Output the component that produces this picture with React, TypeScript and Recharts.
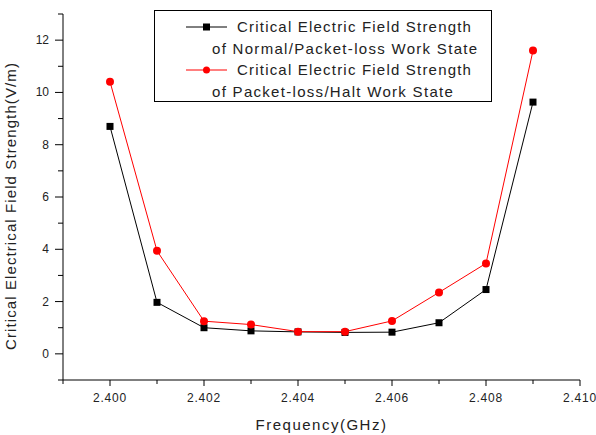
import { LineChart, Line, XAxis, YAxis, Legend, Label } from "recharts";

const frequencies = [2.4, 2.401, 2.402, 2.403, 2.404, 2.405, 2.406, 2.407, 2.408, 2.409];
const normalPacketLoss = [8.7, 1.97, 1.0, 0.88, 0.84, 0.82, 0.83, 1.19, 2.46, 9.63];
const packetLossHalt = [10.41, 3.94, 1.25, 1.12, 0.85, 0.85, 1.26, 2.35, 3.46, 11.6];

const xTicks = [2.399, 2.4, 2.401, 2.402, 2.403, 2.404, 2.405, 2.406, 2.407, 2.408, 2.409, 2.41];
const yTicks = [-1, 0, 1, 2, 3, 4, 5, 6, 7, 8, 9, 10, 11, 12, 13];

const seriesNames = [
  ["Critical Electric Field Strength", "of Normal/Packet-loss Work State"],
  ["Critical Electric Field Strength", "of Packet-loss/Halt Work State"],
];

const data = frequencies.map((f, i) => ({
  f,
  normal: normalPacketLoss[i],
  halt: packetLossHalt[i],
}));

const FONT = "'Liberation Sans', Arial, sans-serif";
const INK = "#222";

function XTick({ x, y, payload }: any) {
  const v = payload.value as number;
  const major = Math.round(v * 1000) % 2 === 0;
  return (
    <g>
      <line x1={x} x2={x} y1={y} y2={y + (major ? 6 : 4)} stroke="#000" />
      {major && (
        <text x={x} y={y + 22} textAnchor="middle" fontSize={12} letterSpacing={0.8} fill={INK} fontFamily={FONT}>
          {v.toFixed(3)}
        </text>
      )}
    </g>
  );
}

function YTick({ x, y, payload }: any) {
  const v = payload.value as number;
  const major = v % 2 === 0;
  return (
    <g>
      <line x1={x} x2={x - (major ? 8 : 5)} y1={y} y2={y} stroke="#000" />
      {major && (
        <text x={x - 14} y={y + 4} textAnchor="end" fontSize={12} fill={INK} fontFamily={FONT}>
          {v}
        </text>
      )}
    </g>
  );
}

function SquareDot({ cx, cy }: any) {
  return <rect x={cx - 3.5} y={cy - 3.5} width={7} height={7} fill="#000" />;
}

function CircleDot({ cx, cy }: any) {
  return <circle cx={cx} cy={cy} r={4} fill="#ff0000" />;
}

function LegendBox() {
  const rows = [
    { color: "#000", marker: <rect x={17} y={-3.5} width={7} height={7} fill="#000" />, names: seriesNames[0] },
    { color: "#ff0000", marker: <circle cx={20.5} cy={0} r={3.5} fill="#ff0000" />, names: seriesNames[1] },
  ];
  return (
    <div style={{ width: 336, height: 90, border: "1px solid #000", background: "#fff", position: "relative", fontFamily: FONT, fontSize: 15, color: INK }}>
      {rows.map((r, i) => (
        <div key={i} style={{ position: "absolute", top: 5 + i * 43, left: 0 }}>
          <svg width={42} height={10} style={{ position: "absolute", left: 31, top: 6 }}>
            <g transform="translate(0,5)">
              <line x1={0} x2={41} y1={0} y2={0} stroke={r.color} />
              {r.marker}
            </g>
          </svg>
          <div style={{ position: "absolute", left: 82, top: 0, whiteSpace: "nowrap", lineHeight: "21px", letterSpacing: 1.2 }}>{r.names[0]}</div>
          <div style={{ position: "absolute", left: 57, top: 22, whiteSpace: "nowrap", lineHeight: "21px", letterSpacing: 1.3 }}>{r.names[1]}</div>
        </div>
      ))}
    </div>
  );
}

export default function App() {
  return (
    <div style={{ position: "absolute", left: 0, top: 0, background: "#fff" }}>
      <LineChart width={596} height={435} data={data} margin={{ top: 14, right: 16, bottom: 0, left: 0 }}>
        <XAxis
          dataKey="f"
          type="number"
          domain={[2.399, 2.41]}
          ticks={xTicks}
          interval={0}
          tickSize={0}
          tickMargin={0}
          tickLine={false}
          tick={<XTick />}
          height={55}
          axisLine={{ stroke: "#000" }}
          allowDataOverflow
        >
          <Label
            value="Frequency(GHz)"
            position="insideBottom"
            offset={5}
            style={{ fontFamily: FONT, fontSize: 15, letterSpacing: 1.5, fill: INK }}
          />
        </XAxis>
        <YAxis
          type="number"
          domain={[-1, 13]}
          ticks={yTicks}
          interval={0}
          tickSize={0}
          tickMargin={0}
          tickLine={false}
          tick={<YTick />}
          width={63}
          axisLine={{ stroke: "#000" }}
          allowDataOverflow
        >
          <Label
            value="Critical Electrical Field Strength(V/m)"
            angle={-90}
            position="insideLeft"
            offset={11}
            dy={9}
            style={{ fontFamily: FONT, fontSize: 15, letterSpacing: 1.1, fill: INK, textAnchor: "middle" }}
          />
        </YAxis>
        <Legend
          layout="horizontal"
          verticalAlign="middle"
          align="center"
          wrapperStyle={{ left: 154, top: 10, width: 338, height: 92 }}
          content={() => <LegendBox />}
        />
        <Line
          dataKey="normal"
          stroke="#000"
          strokeWidth={1}
          dot={<SquareDot />}
          activeDot={false}
          isAnimationActive={false}
        />
        <Line
          dataKey="halt"
          stroke="#ff0000"
          strokeWidth={1}
          dot={<CircleDot />}
          activeDot={false}
          isAnimationActive={false}
        />
      </LineChart>
    </div>
  );
}
